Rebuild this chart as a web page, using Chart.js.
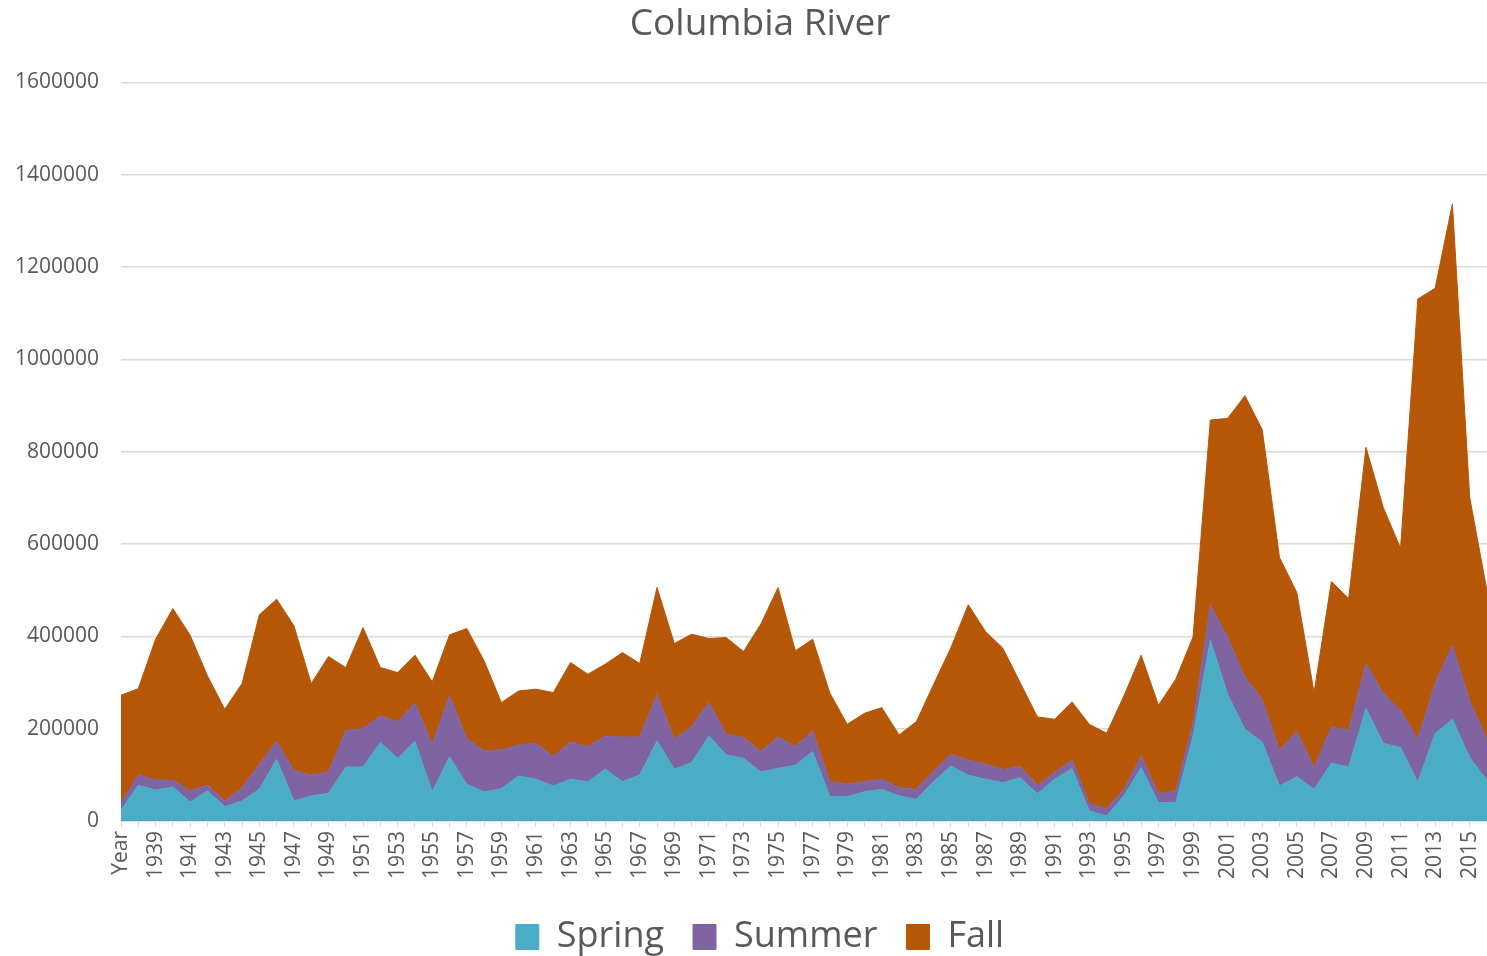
<!DOCTYPE html>
<html lang="en">
<head>
<meta charset="UTF-8">
<title>Columbia River</title>
<script src="https://cdn.jsdelivr.net/npm/chart.js"></script>
<style>
  html, body { margin: 0; padding: 0; background: #fff; overflow: hidden; }
  #wrap { width: 1520px; height: 965px; position: relative; }
</style>
</head>
<body>
<div id="wrap"><canvas id="riverChart"></canvas></div>
<script>
// categories: first row is the header label "Year", then 1938..2016
const years = ['Year'];
for (let y = 1938; y <= 2016; y++) years.push(String(y));

const spring = [
  23200, 77400, 67200, 73700, 41200, 65000, 31000, 43400, 68700, 133700,
  43400, 54200, 60000, 117100, 117100, 169800, 135900, 172000, 63600, 138800,
  79500, 62900, 70100, 97600, 90400, 75900, 90400, 84600, 112000, 85300,
  99700, 173400, 112000, 126500, 184300, 143100, 135900, 106200, 114200, 120800,
  150300, 52700, 52700, 63600, 68700, 54200, 47000, 85300, 119200, 99000,
  90400, 83100, 93900, 59200, 90400, 113500, 21700, 10800, 54200, 115600,
  39700, 39700, 184300, 391700, 274600, 198700, 171000, 75900, 96100, 68700,
  125000, 117100, 243500, 168400, 159000, 84600, 189300, 220400, 137300, 88200
];

const summer = [
  16500, 22300, 21700, 15200, 23800, 13000, 12400, 28800, 54200, 38300,
  66500, 44800, 46200, 79500, 83000, 57800, 79400, 83200, 102700, 132200,
  99000, 88900, 83800, 67200, 78000, 63600, 80900, 76500, 72300, 96800,
  82400, 101200, 65100, 77300, 72200, 44800, 44800, 44100, 67900, 40300,
  44800, 32600, 26800, 21700, 21700, 18000, 21700, 23100, 25400, 33200,
  32500, 28200, 23900, 18200, 14400, 18700, 15800, 15900, 14500, 25300,
  19500, 25300, 28800, 75900, 122800, 113500, 92000, 77300, 97600, 46900,
  78800, 79500, 97600, 107600, 80900, 92500, 108400, 160500, 122900, 88900
];

const fall = [
  232800, 187100, 305000, 371400, 337500, 236400, 198700, 225500, 323700, 308600,
  312900, 198700, 250000, 135800, 219000, 104800, 106200, 104000, 135100, 132200,
  238500, 195100, 102600, 117000, 117100, 138700, 172000, 156900, 155400, 182800,
  159000, 231300, 207300, 200900, 138800, 209600, 186400, 276100, 323800, 207500,
  198800, 191500, 130100, 148100, 155300, 114200, 146600, 187900, 231200, 336100,
  287600, 263100, 182100, 148100, 115600, 125800, 172100, 163400, 202300, 218300,
  191600, 242200, 185800, 401100, 474800, 609200, 585000, 417700, 301300, 162600,
  315100, 285400, 468300, 403300, 351200, 953900, 856300, 956100, 440800, 321500
];

const yMax = 1600000;
const yStep = 200000;

const textColor = '#595959';
const gridColor = '#D9D9D9';
const fontFamily = '"Open Sans", "Noto Sans", sans-serif';

function series(label, data, color, fill) {
  return {
    label: label,
    data: data,
    backgroundColor: color,
    borderColor: color,
    borderWidth: 1,
    pointRadius: 0,
    pointHoverRadius: 0,
    tension: 0,
    fill: fill
  };
}

const ctx = document.getElementById('riverChart').getContext('2d');
new Chart(ctx, {
  type: 'line',
  data: {
    labels: years,
    datasets: [
      series('Spring', spring, '#4BACC6', 'origin'),
      series('Summer', summer, '#8064A2', '-1'),
      series('Fall', fall, '#B65708', '-1')
    ]
  },
  options: {
    responsive: true,
    maintainAspectRatio: false,
    animation: false,
    layout: { padding: 0 },
    plugins: {
      title: {
        display: true,
        text: 'Columbia River',
        color: textColor,
        font: { family: fontFamily, size: 37, weight: 'normal', lineHeight: 1.2 },
        padding: { top: 2, bottom: 36 }
      },
      legend: {
        position: 'bottom',
        labels: {
          color: textColor,
          font: { family: fontFamily, size: 36 },
          boxWidth: 23,
          boxHeight: 25,
          padding: 29
        }
      },
      tooltip: { enabled: false }
    },
    scales: {
      x: {
        offset: false,
        grid: {
          display: true,
          drawOnChartArea: false,
          drawTicks: true,
          tickLength: 6,
          color: gridColor
        },
        border: { display: true, color: gridColor, width: 1.5 },
        ticks: {
          autoSkip: false,
          minRotation: 90,
          maxRotation: 90,
          padding: 4,
          color: textColor,
          font: { family: fontFamily, size: 21 },
          callback: function (value, index) {
            return index % 2 === 0 ? years[index] : '';
          }
        },
        afterFit: function (scale) {
          scale.height = 69;
          scale.paddingLeft = 0;
          scale.paddingRight = 0;
        }
      },
      y: {
        stacked: true,
        min: 0,
        max: yMax,
        grid: { color: gridColor, lineWidth: 1.5, drawTicks: false },
        border: { display: false },
        ticks: {
          stepSize: yStep,
          padding: 22,
          color: textColor,
          font: { family: fontFamily, size: 21 },
          callback: function (value) { return String(value); }
        },
        afterFit: function (scale) {
          scale.width = 121;
        }
      },
      // empty strip on the right: the original chart runs past the picture's edge
      yEdge: {
        position: 'right',
        min: 0,
        max: yMax,
        grid: { display: false },
        border: { display: false },
        ticks: { display: false },
        afterFit: function (scale) {
          scale.width = 33;
        }
      }
    }
  }
});
</script>
</body>
</html>
